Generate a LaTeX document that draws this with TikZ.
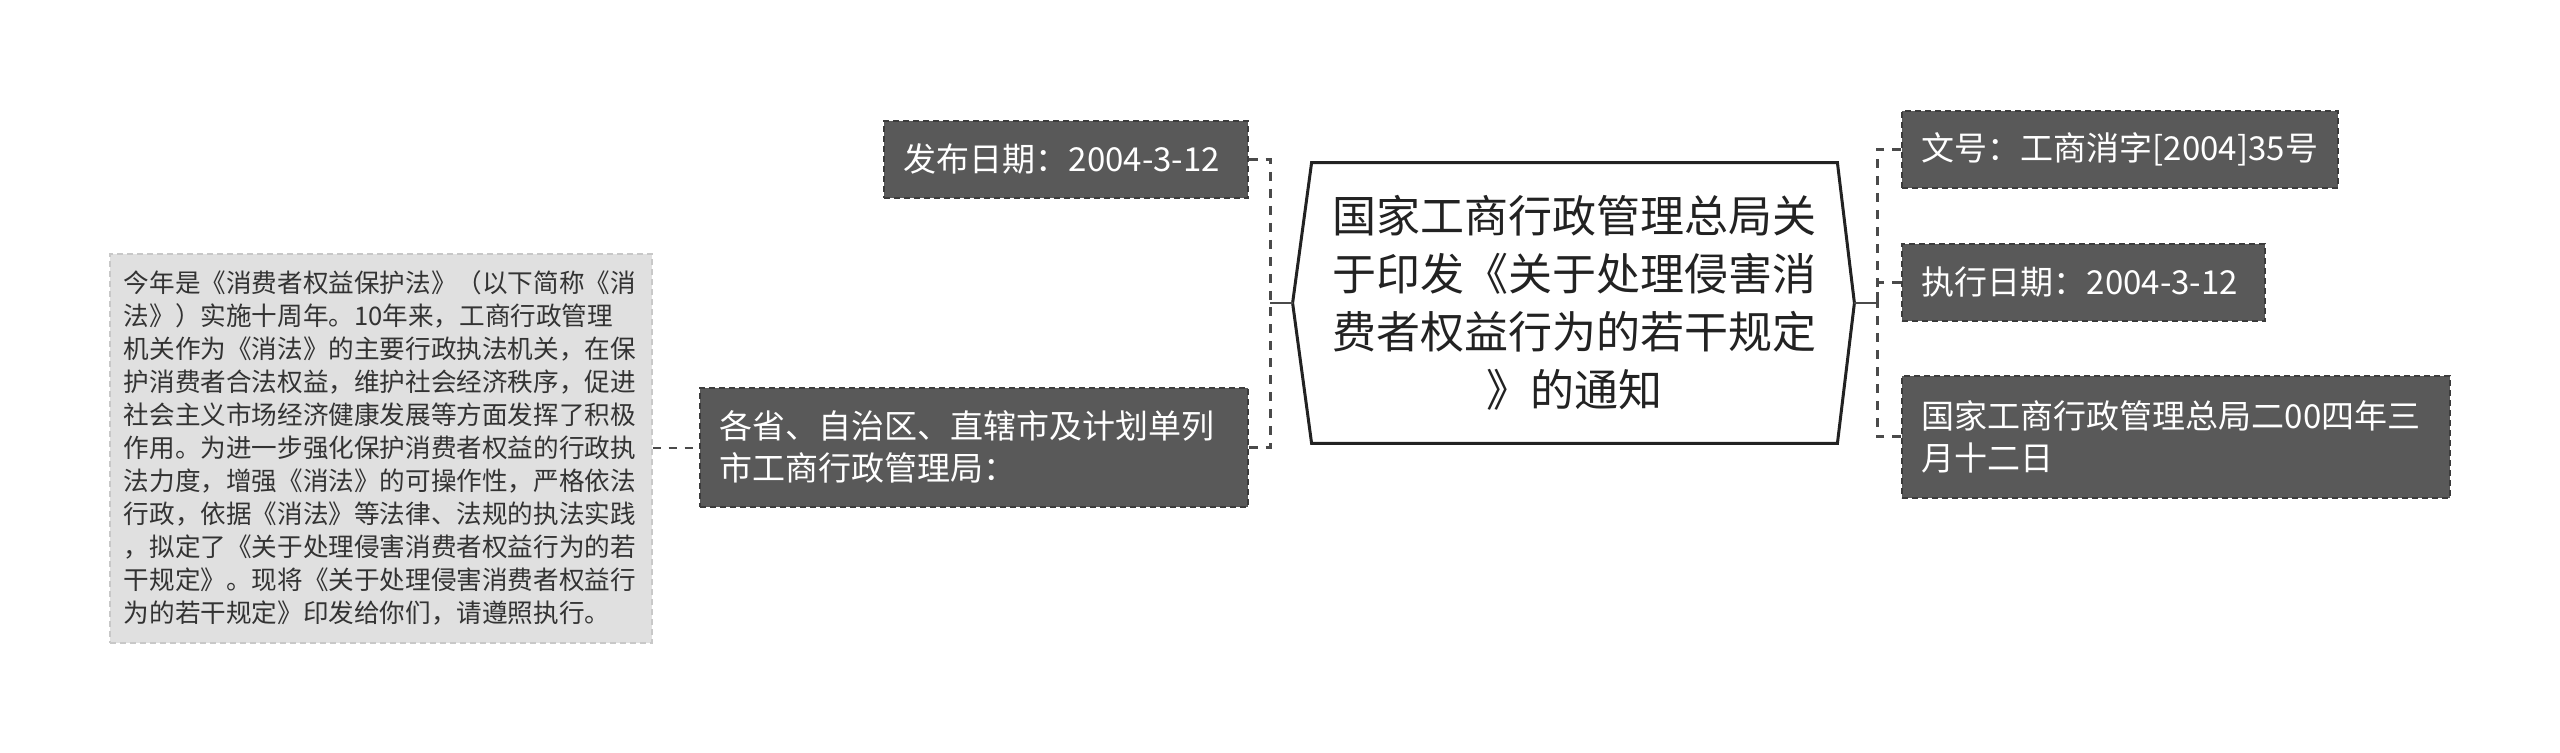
\documentclass[tikz,border=0pt]{standalone}
\usepackage{fontspec}
\setmainfont{Noto Sans CJK SC}
\usetikzlibrary{calc}
\definecolor{boxgray}{HTML}{595959}
\definecolor{boxedge}{HTML}{3C3C3C}
\definecolor{descfill}{HTML}{E0E0E0}
\definecolor{descedge}{HTML}{C8C8C8}
\definecolor{linkgray}{HTML}{4A4A4A}
\definecolor{desctext}{HTML}{333333}
\definecolor{roottext}{HTML}{222222}
\begin{document}
\begin{tikzpicture}[x=0.5pt,y=-0.5pt,
  darkbox/.style={draw=boxedge, dash pattern=on 3pt off 2pt, line width=0.8pt,
    fill=boxgray, text=white, font=\fontsize{16.5}{21}\selectfont,
    align=left, anchor=north west, inner xsep=10pt, inner ysep=0pt},
  descbox/.style={draw=descedge, dash pattern=on 3pt off 2pt, line width=0.8pt,
    fill=descfill, text=desctext, font=\fontsize{12.8}{16.5}\selectfont,
    align=left, anchor=north west, inner xsep=7pt, inner ysep=0pt},
  rootbox/.style={text=roottext, font=\fontsize{22}{29}\selectfont, align=center,
    inner sep=0pt, minimum width=262.5pt, minimum height=140pt, text width=255pt},
  rootedge/.style={draw=roottext, line width=1.5pt, line join=miter},
  link/.style={draw=linkgray, line width=1.5pt, dash pattern=on 4.5pt off 4pt},
  thinlink/.style={draw=linkgray, line width=0.8pt, dash pattern=on 4pt off 4pt},
  linksolid/.style={draw=linkgray, line width=1.2pt}
]
\useasboundingbox[fill=white] (0,0) rectangle (2560,753);

% central node
\node[rootbox] (root) at (1574.5,303) {国家工商行政管理总局关\\于印发《关于处理侵害消\\费者权益行为的若干规定\\》的通知};
\coordinate (rootL) at ($(root.west)+(-19,0)$);
\coordinate (rootR) at ($(root.east)+(17,0)$);
\draw[rootedge] (root.north west) -- (root.north east) -- (rootR) -- (root.south east)
  -- (root.south west) -- (rootL) -- cycle;

% left side
\node[darkbox, text width=162pt, minimum height=38.5pt] (pub) at (883,120) {发布日期：2004-3-12};
\node[darkbox, text width=254pt, minimum height=59.5pt] (prov) at (699,387) {各省、自治区、直辖市及计划单列\\市工商行政管理局：};
\node[descbox, text width=257pt, minimum height=194.5pt] (desc) at (109,253) {今年是《消费者权益保护法》（以下简称《消\\法》）实施十周年。10年来，工商行政管理\\机关作为《消法》的主要行政执法机关，在保\\护消费者合法权益，维护社会经济秩序，促进\\社会主义市场经济健康发展等方面发挥了积极\\作用。为进一步强化保护消费者权益的行政执\\法力度，增强《消法》的可操作性，严格依法\\行政，依据《消法》等法律、法规的执法实践\\，拟定了《关于处理侵害消费者权益行为的若\\干规定》。现将《关于处理侵害消费者权益行\\为的若干规定》印发给你们，请遵照执行。};

% right side
\node[darkbox, text width=198pt, minimum height=38.5pt] (wh) at (1901,110) {文号：工商消字[2004]35号};
\node[darkbox, text width=161.5pt, minimum height=38.5pt] (exec) at (1901,243) {执行日期：2004-3-12};
\node[darkbox, text width=254pt, minimum height=61pt] (issuer) at (1901,375) {国家工商行政管理总局二00四年三\\月十二日};

% connectors
\coordinate (lbar) at (1270,303);
\coordinate (rbar) at (1877,303);
\draw[link] (pub.east) -| (lbar);
\draw[link] (prov.east) -| (lbar);
\draw[linksolid] (lbar) -- (rootL);
\draw[link] (wh.west) -| (rbar);
\draw[link] (exec.west) -| (rbar);
\draw[link] (issuer.west) -| (rbar);
\draw[linksolid] (rootR) -- (rbar);
\draw[thinlink] (desc.east) -- (desc.east -| prov.west);
\end{tikzpicture}
\end{document}
